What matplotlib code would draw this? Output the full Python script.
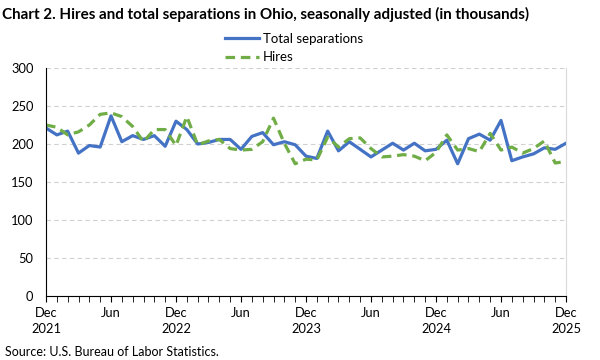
import numpy as np
import matplotlib.pyplot as plt

# Monthly values, Dec 2021 .. Dec 2025 (thousands)
months = np.arange(49)
separations = [221, 212, 217, 188, 198, 196, 237, 203, 211, 206, 211, 197,
               230, 219, 200, 202, 206, 206, 193, 210, 215, 199, 203, 199,
               184, 181, 217, 191, 203, 193, 183, 192, 201, 192, 201, 191,
               193, 205, 174, 207, 213, 205, 231, 178, 183, 187, 195, 193,
               201]
hires = [225, 222, 212, 216, 225, 239, 241, 236, 223, 203, 219, 219,
         198, 236, 199, 204, 206, 194, 192, 193, 203, 234, 201, 174,
         180, 179, 209, 196, 207, 208, 194, 183, 184, 186, 184, 178,
         189, 212, 192, 194, 190, 214, 192, 196, 188, 194, 204, 175,
         177]
tick_pos = np.arange(0, 49, 6)
tick_labels = ['Dec\n2021', 'Jun', 'Dec\n2022', 'Jun', 'Dec\n2023', 'Jun',
               'Dec\n2024', 'Jun', 'Dec\n2025']

plt.rcParams['font.family'] = ['Lato', 'DejaVu Sans']

fig = plt.figure(figsize=(6, 3.6), dpi=100)
ax = fig.add_axes([46/600, 1-296/360, 520/600, 228/360])

ax.plot(months, separations, color='#4472C4', lw=2.3, label='Total separations')
ax.plot(months, hires, color='#70AD47', lw=2.3, ls=(0, (3, 1.8)), label='Hires')

ax.set_xlim(0, 48)
ax.set_ylim(0, 300)
ax.set_yticks(range(0, 301, 50))
ax.set_xticks(tick_pos)
ax.set_xticklabels(tick_labels, linespacing=1.35)
ax.set_xticks(months, minor=True)
ax.tick_params(axis='x', which='both', direction='out', length=4, color='black',
               labelsize=9.3, pad=4)
ax.tick_params(axis='y', length=0, labelsize=9.3, pad=9)
ax.grid(axis='y', color='#D0D0D0', ls=(0, (4, 3)), lw=0.8)
ax.set_axisbelow(True)
ax.spines['top'].set_visible(False)
ax.spines['right'].set_color('#D9D9D9')
ax.spines['left'].set_color('black')
ax.spines['bottom'].set_color('black')

fig.legend(loc='upper center', bbox_to_anchor=(0.49, 0.927), ncol=1, frameon=False,
           fontsize=9.5, handlelength=2.6, labelspacing=0.5, borderpad=0,
           handletextpad=0.3)

fig.text(0.004, 1-14/360, 'Chart 2. Hires and total separations in Ohio, seasonally adjusted (in thousands)',
         fontsize=10.9, fontweight='bold', va='center', ha='left')
fig.text(0.008, 1-352/360, 'Source: U.S. Bureau of Labor Statistics.', fontsize=9,
         va='center', ha='left')

fig.savefig('out.png', dpi=100)
